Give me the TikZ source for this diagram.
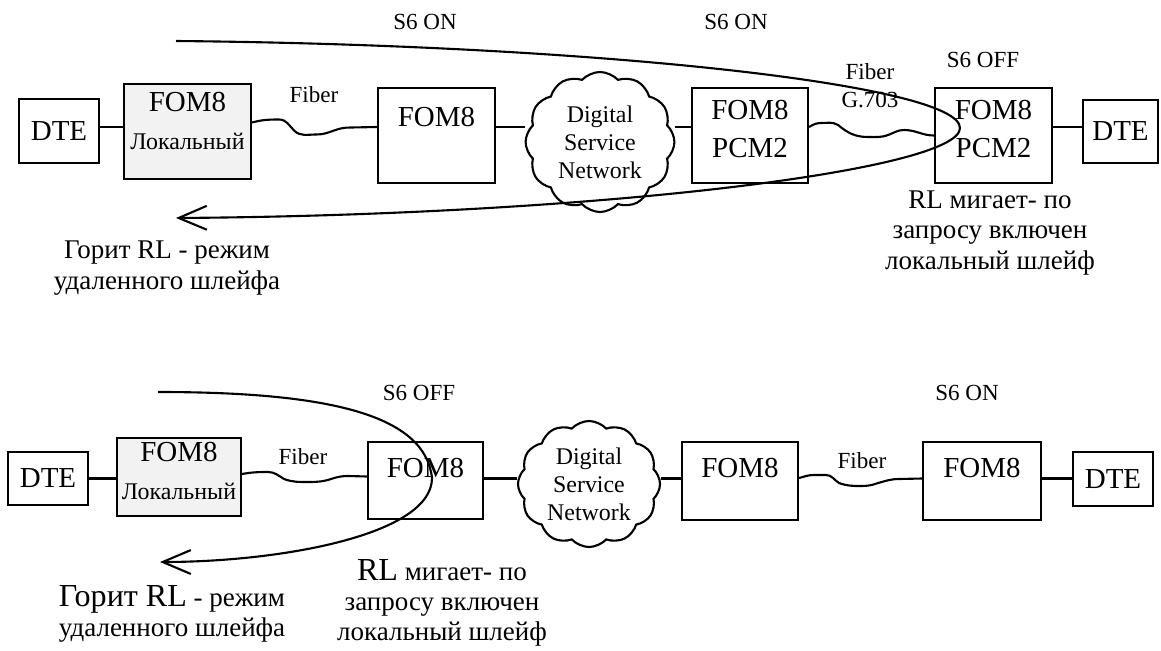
\documentclass[tikz,border=0pt]{standalone}
\usepackage{fontspec}
\setmainfont{Liberation Serif}
\usepackage{tikz}
\usetikzlibrary{arrows.meta,positioning,shapes.symbols,calc}
\definecolor{locgray}{HTML}{F2F2F2}
\newcommand\boxsize{\fontsize{20.6}{27}\selectfont}
\newcommand\subsize{\fontsize{17}{20}\selectfont}
\newcommand\lblsize{\fontsize{16.4}{20}\selectfont}
\newcommand\notesize{\fontsize{19.2}{21.5}\selectfont}
\newcommand\bigsize{\fontsize{22.8}{21.5}\selectfont}

\begin{document}
\begin{tikzpicture}[x=0.025cm,y=0.025cm,
      every node/.style={inner sep=0pt},
      lnk/.style={line width=1.5pt},
      fiber/.style={line width=1.5pt},
      box/.style={draw,line width=1.5pt,fill=white,align=center,font=\boxsize},
      locbox/.style={box,fill=locgray},
      dsn/.style={cloud,draw,line width=1.5pt,fill=white,cloud puffs=12,
                  cloud puff arc=95,cloud ignores aspect,align=center,font=\subsize},
      lbl/.style={font=\lblsize,align=center},
      note/.style={font=\notesize,align=center},
      loopline/.style={line width=1.5pt,-{Straight Barb[length=20pt,width=17pt]}},
  ]
    \useasboundingbox (0,0) rectangle (1161,-650);

    % upper chain
    \coordinate (row1) at (0,-127);
    \node[box,minimum width=2cm,minimum height=1.6cm] (dte1) at (59,-131) {DTE};
    \node[locbox,minimum width=3.175cm,minimum height=2.375cm,text depth=0.55cm]
      (loc1) at (187.5,-131.5) {FOM8\\{\subsize Локальный}};
    \node[box,minimum width=2.925cm,minimum height=2.375cm,text depth=0.95cm]
      (fom1) at (436.5,-135.5) {FOM8};
    \node[dsn,minimum width=3.72cm,minimum height=3.5cm] (dsn1) at (600,-142)
      {Digital\\Service\\Network};
    \node[box,minimum width=2.9cm,minimum height=2.375cm,text depth=0.33cm]
      (pcm1) at (750,-135.5) {FOM8\\PCM2};
    \node[box,minimum width=2.925cm,minimum height=2.375cm,text depth=0.33cm]
      (pcm2) at (993.5,-135.5) {FOM8\\PCM2};
    \node[box,minimum width=1.875cm,minimum height=1.575cm] (dte2) at (1120.5,-131.5) {DTE};

    \draw[lnk] (dte1.east |- row1) -- (loc1.west |- row1);
    \draw[lnk] (fom1.east |- row1) -- (dsn1.west |- row1);
    \draw[lnk] (dsn1.east |- row1) -- (pcm1.west |- row1);
    \draw[lnk] (pcm2.east |- row1) -- (dte2.west |- row1);
    \draw[fiber] ($(loc1.east)+(0,9)$) to[out=15,in=180] ++(27,3)
      to[out=0,in=135] ++(15,-11) to[out=-45,in=180] ++(22,-4)
      to[out=0,in=200] ++(18,4) to[out=20,in=180] ++(17,3) -- (fom1.west |- row1);
    \draw[fiber] (pcm1.east |- row1) to[out=30,in=180] ++(12,4)
      to[out=0,in=150] ++(17,-2) to[out=-40,in=180] ++(30,-12)
      to[out=0,in=200] ++(20,2) to[out=20,in=180] ++(16,5) to[out=0,in=180] (pcm2.west);

    \node[lbl] (s6a) at (425,-22) {S6 ON};
    \node[lbl] (s6b) at (736,-22) {S6 ON};
    \node[lbl] (s6c) at (983,-60) {S6 OFF};
    \node[lbl] (fib1) at (314,-95) {Fiber};
    \node[lbl] (fib2) at (870,-86) {Fiber\\G.703};
    \node[note] (rl1) at (990,-233) {RL мигает- по\\запросу включен\\локальный шлейф};
    \node[note] (hl1) at (167,-268) {Горит RL - режим\\удаленного шлейфа};

    % remote loop, upper chain
    \coordinate (lp1a) at (176,-41);
    \coordinate (lp1b) at (960,-128);
    \coordinate (lp1c) at (176,-218);
    \draw[loopline] (lp1a) .. controls (600,-45) and (960,-85) .. (lp1b)
      .. controls (960,-170) and (600,-215) .. (lp1c);

    % lower chain
    \coordinate (row2) at (0,-478.5);
    \node[box,minimum width=2cm,minimum height=1.325cm] (dte3) at (48,-478.5) {DTE};
    \node[locbox,minimum width=3.1cm,minimum height=1.95cm,text depth=0.3cm]
      (loc2) at (179,-477) {FOM8\\{\subsize Локальный}};
    \node[box,minimum width=2.875cm,minimum height=1.925cm,text depth=0.65cm]
      (fom3) at (425.5,-480.5) {FOM8};
    \node[dsn,minimum width=3.55cm,minimum height=3.15cm] (dsn2) at (589,-484)
      {Digital\\Service\\Network};
    \node[box,minimum width=2.9cm,minimum height=1.95cm,text depth=0.65cm]
      (fom4) at (740,-481) {FOM8};
    \node[box,minimum width=2.95cm,minimum height=1.95cm,text depth=0.65cm]
      (fom5) at (982,-481) {FOM8};
    \node[box,minimum width=2cm,minimum height=1.35cm] (dte4) at (1113,-479) {DTE};

    \draw[lnk] (dte3.east |- row2) -- (loc2.west |- row2);
    \draw[lnk] (fom3.east |- row2) -- (dsn2.west |- row2);
    \draw[lnk] (dsn2.east |- row2) -- (fom4.west |- row2);
    \draw[lnk] (fom5.east |- row2) -- (dte4.west |- row2);
    \draw[fiber] ($(loc2.east)+(0,3)$) to[out=10,in=180] ++(26,2)
      to[out=0,in=150] ++(16,-7) to[out=-20,in=180] ++(24,-3)
      to[out=0,in=200] ++(26,4) to[out=15,in=180] ++(14,2) -- ($(fom3.west)+(0,4)$);
    \draw[fiber] ($(fom4.east)+(0,3)$) to[out=15,in=180] ++(15,3) -- ++(12,0)
      to[out=0,in=150] ++(13,-8) to[out=-20,in=180] ++(22,-3)
      to[out=0,in=200] ++(17,3) to[out=15,in=180] ++(21,4) -- (fom5.west |- row2);

    \node[lbl] (s6d) at (419,-393) {S6 OFF};
    \node[lbl] (s6e) at (967,-393) {S6 ON};
    \node[lbl] (fib3) at (303,-457) {Fiber};
    \node[lbl] (fib4) at (862,-461) {Fiber};
    \node[note] (hl2) at (172,-614) {{\bigsize Горит RL} - режим\\удаленного шлейфа};
    \node[note] (rl2) at (442,-603) {{\bigsize RL} мигает- по\\запросу включен\\локальный шлейф};

    % local loop, lower chain
    \coordinate (lp2a) at (158,-392);
    \coordinate (lp2b) at (432,-478);
    \coordinate (lp2c) at (160,-562);
    \draw[loopline] (lp2a) .. controls (330,-392) and (425,-415) .. (lp2b)
      .. controls (432,-535) and (280,-562) .. (lp2c);
  \end{tikzpicture}
\end{document}
